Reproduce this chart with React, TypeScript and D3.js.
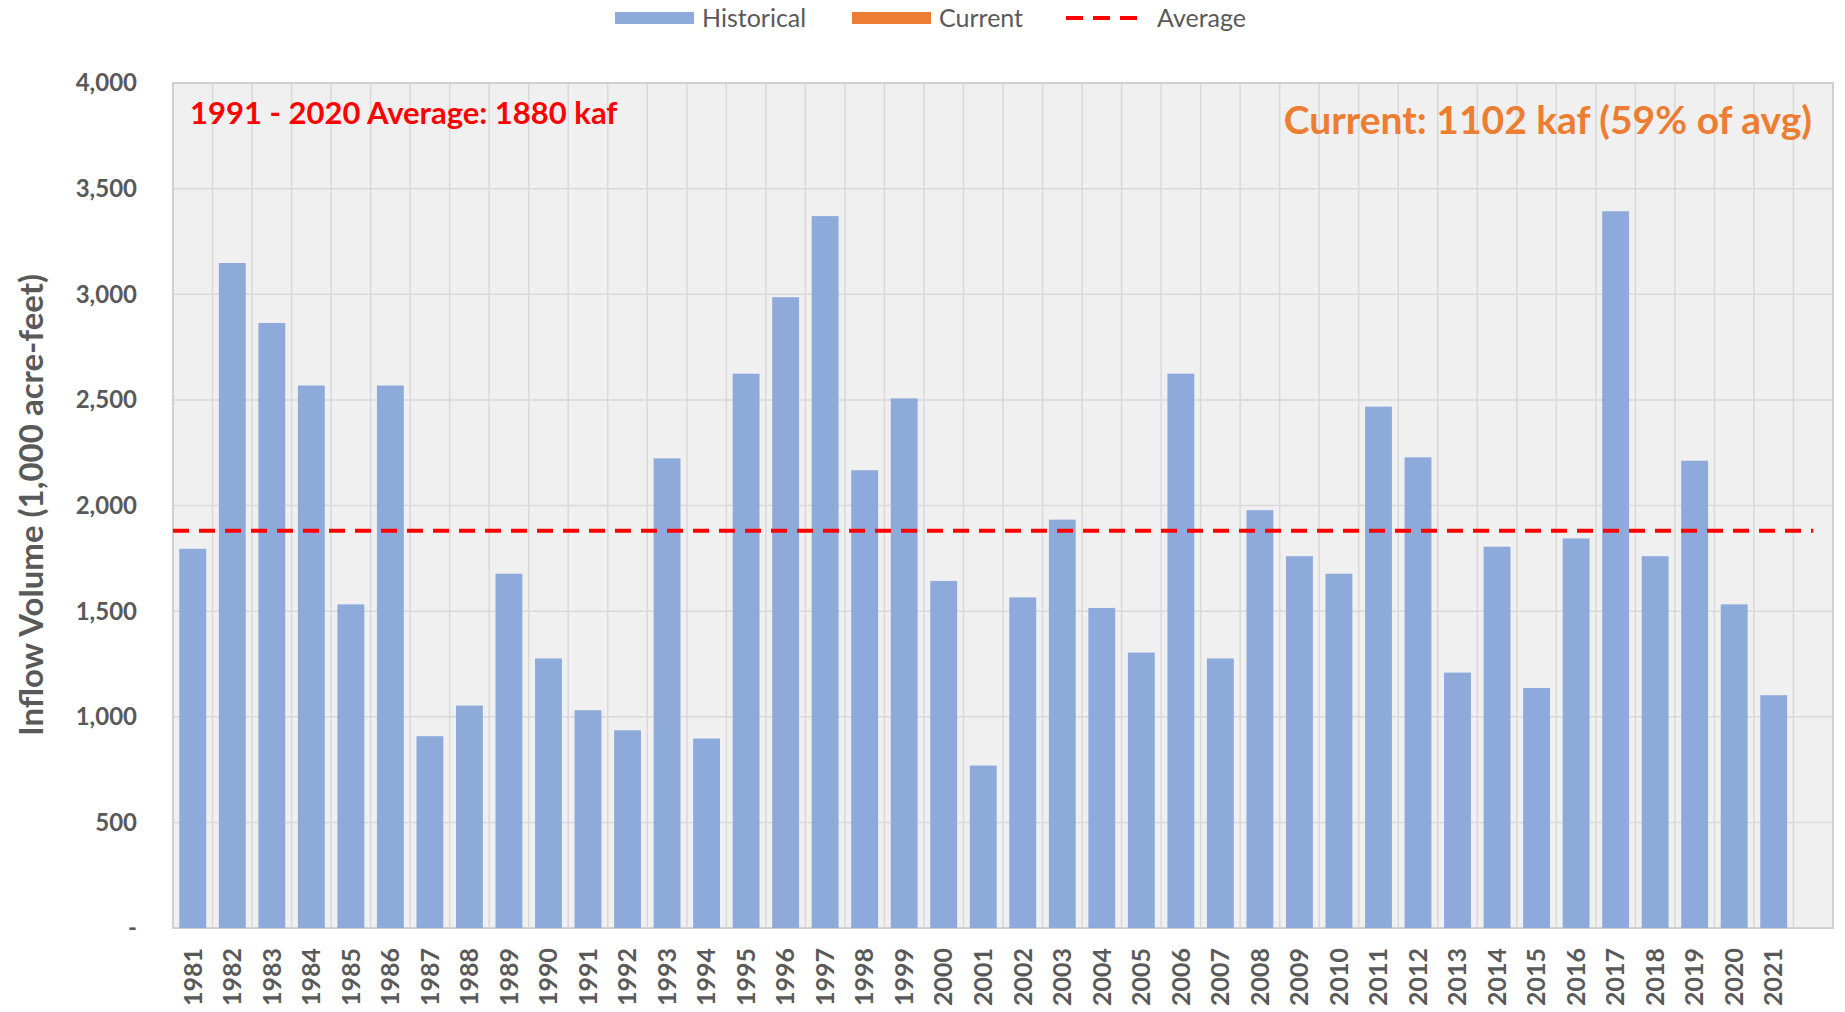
import * as d3 from "d3";
import React from "react";

// water years shown on the x axis, plus one empty slot at the end (current year)
const years = [
  "1981", "1982", "1983", "1984", "1985", "1986", "1987", "1988", "1989", "1990",
  "1991", "1992", "1993", "1994", "1995", "1996", "1997", "1998", "1999", "2000",
  "2001", "2002", "2003", "2004", "2005", "2006", "2007", "2008", "2009", "2010",
  "2011", "2012", "2013", "2014", "2015", "2016", "2017", "2018", "2019", "2020",
  "2021",
];
const slots = [...years, ""];

// inflow volume, 1,000 acre-feet
const historical = [
  1795, 3148, 2864, 2568, 1532, 2568, 908, 1053, 1677, 1276,
  1031, 936, 2223, 897, 2624, 2986, 3370, 2167, 2507, 1643,
  769, 1565, 1933, 1515, 1304, 2624, 1276, 1978, 1760, 1677,
  2468, 2228, 1209, 1805, 1136, 1844, 3393, 1760, 2212, 1532,
  1102,
];
const average = 1880;
const yTicks = [0, 500, 1000, 1500, 2000, 2500, 3000, 3500, 4000];

const legendItems = ["Historical", "Current", "Average"];

const W = 1845;
const H = 1012;
const margin = { top: 83, right: 12, bottom: 84, left: 173 };
const FONT = "Lato, 'Liberation Sans', sans-serif";
const GRAY = "#595959";
const BLUE = "#8eaadb";
const ORANGE = "#ed7d31";
const RED = "#ff0000";

export default function App() {
  const x = d3.scaleBand()
    .domain(slots)
    .range([margin.left, W - margin.right])
    .paddingInner(0.32)
    .paddingOuter(0.16);

  const y = d3.scaleLinear()
    .domain([0, 4000])
    .range([H - margin.bottom, margin.top]);

  const step = x.step();
  const fmt = d3.format(",");
  const left = margin.left;
  const right = W - margin.right;
  const bottom = H - margin.bottom;

  // category boundaries for the vertical gridlines
  const bounds = d3.range(1, slots.length).map(i => left + i * step);

  const legendX = [615, 852, 1066];

  return (
    <div style={{ position: "absolute", left: 0, top: 0 }}>
      <svg width={W} height={H} style={{ display: "block", background: "#fff" }} fontFamily={FONT}>
        {/* plot area */}
        <rect x={left} y={margin.top} width={right - left} height={bottom - margin.top} fill="#f0f0f0" />
        <g stroke="#d9d9d9" strokeWidth={1.5}>
          {yTicks.map(t => (
            <line key={"h" + t} x1={left} x2={right} y1={y(t)} y2={y(t)} />
          ))}
          {bounds.map((b, i) => (
            <line key={"v" + i} x1={b} x2={b} y1={margin.top} y2={bottom} />
          ))}
        </g>
        <rect x={left} y={margin.top} width={right - left} height={bottom - margin.top}
          fill="none" stroke="#d0d0d0" strokeWidth={2} />

        {/* bars */}
        <g fill={BLUE}>
          {historical.map((v, i) => (
            <rect key={years[i]} x={x(years[i])} width={x.bandwidth()} y={y(v)} height={y(0) - y(v)} />
          ))}
        </g>

        {/* average line */}
        <line x1={left} x2={(x("") ?? 0) + x.bandwidth() / 2} y1={y(average)} y2={y(average)}
          stroke={RED} strokeWidth={4} strokeDasharray="16 10" />

        {/* y axis labels */}
        <g fill={GRAY} fontSize={24} fontWeight="bold" textAnchor="end">
          {yTicks.map(t => (
            <text key={t} x={137} y={y(t)} dy="0.35em">{t === 0 ? "-" : fmt(t)}</text>
          ))}
        </g>
        <text transform={`translate(43,505) rotate(-90)`}
          textAnchor="middle" fill={GRAY} fontSize={33} fontWeight="bold">
          Inflow Volume (1,000 acre-feet)
        </text>

        {/* x axis labels */}
        <g fill={GRAY} fontSize={25} fontWeight="bold" textAnchor="end">
          {years.map(yr => (
            <text key={yr} transform={`translate(${(x(yr) ?? 0) + x.bandwidth() / 2},${bottom + 20}) rotate(-90)`}
              dy="0.35em">{yr}</text>
          ))}
        </g>

        {/* annotations */}
        <text x={190} y={113} dy="0.35em" fill={RED} fontSize={31} fontWeight="bold">
          1991 - 2020 Average: 1880 kaf
        </text>
        <text x={1812} y={120} dy="0.35em" textAnchor="end" fill={ORANGE} fontSize={39} fontWeight="bold">
          Current: 1102 kaf (59% of avg)
        </text>

        {/* legend */}
        <g fontSize={25} fill={GRAY}>
          <rect x={legendX[0]} y={12} width={79} height={12} fill={BLUE} />
          <text x={legendX[0] + 87} y={18} dy="0.35em">{legendItems[0]}</text>
          <rect x={legendX[1]} y={12} width={79} height={12} fill={ORANGE} />
          <text x={legendX[1] + 87} y={18} dy="0.35em">{legendItems[1]}</text>
          <line x1={legendX[2]} x2={legendX[2] + 81} y1={18} y2={18} stroke={RED} strokeWidth={4} strokeDasharray="17 10" />
          <text x={legendX[2] + 91} y={18} dy="0.35em">{legendItems[2]}</text>
        </g>
      </svg>
    </div>
  );
}
